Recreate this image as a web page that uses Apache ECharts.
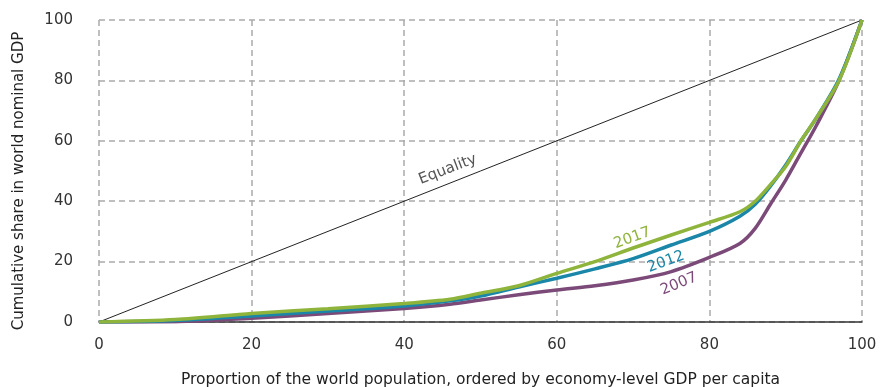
<!DOCTYPE html>
<html>
<head>
<meta charset="utf-8">
<script src="https://cdn.jsdelivr.net/npm/echarts@6/dist/echarts.min.js"></script>
<style>
  html, body { margin: 0; padding: 0; background: #fff; }
  #chart { width: 881px; height: 387px; }
</style>
</head>
<body>
<div id="chart"></div>
<script>
// proportion of world population (x) and cumulative GDP share (y)
var popShare = [0, 10, 20, 30, 40, 46, 50, 55, 60, 65, 70, 75, 80, 84, 86, 88, 90, 92, 94, 97, 100];
var gdp2017 = [0, 0.8, 2.8, 4.4, 6.1, 7.5, 9.5, 12, 16.1, 20, 24.5, 28.8, 33, 36.5, 40, 45.5, 51.5, 60, 67.5, 80, 100];
var gdp2012 = [0, 0.5, 2.0, 3.6, 5.3, 7, 8.6, 11.6, 14.5, 17.6, 21, 25.5, 30, 35, 39, 45, 52, 60, 67.5, 80.5, 100];
var gdp2007 = [0, 0.1, 1.2, 2.8, 4.5, 5.9, 7.3, 9, 10.6, 12, 13.9, 16.7, 21.4, 26, 31, 39, 47, 56, 65, 80, 100];
var equality = [[0, 0], [100, 100]];

var font = 'DejaVu Sans, sans-serif';

function pairs(ys) {
    return popShare.map(function (x, i) { return [x, ys[i]]; });
}

// text tag placed in data space
function tag(text, x, y, rot, color) {
    return {
        symbol: 'circle', symbolSize: 0,
        silent: true,
        data: [{ coord: [x, y] }],
        label: {
            show: true, position: 'inside', formatter: text, rotate: rot,
            color: color, fontSize: 15, fontFamily: font
        }
    };
}

var chart = echarts.init(document.getElementById('chart'));
chart.setOption({
    animation: false,
    grid: { left: 99, right: 19, top: 20, bottom: 65, outerBoundsMode: 'none' },
    xAxis: {
        type: 'value', min: 0, max: 100, interval: 20,
        name: 'Proportion of the world population, ordered by economy-level GDP per capita',
        nameLocation: 'middle', nameGap: 50,
        nameTextStyle: { fontSize: 15.5, color: '#222', fontFamily: font },
        axisLine: { show: true, lineStyle: { color: '#333', width: 1.5 } },
        axisTick: { show: false },
        axisLabel: { fontSize: 15, color: '#333', margin: 16, fontFamily: font },
        splitLine: { show: true, lineStyle: { color: '#aaa', type: [6, 4], width: 1.5 } }
    },
    yAxis: {
        type: 'value', min: 0, max: 100, interval: 20,
        name: 'Cumulative share in world nominal GDP',
        nameLocation: 'middle', nameGap: 72,
        nameTextStyle: { fontSize: 15, color: '#222', fontFamily: font, padding: [0, 20, 0, 0] },
        axisLine: { show: false },
        axisTick: { show: false },
        axisLabel: { fontSize: 15, color: '#333', margin: 26, fontFamily: font },
        splitLine: { show: true, lineStyle: { color: '#aaa', type: [6, 4], width: 1.5 } }
    },
    series: [
        {
            name: 'Equality', type: 'line', data: equality, symbol: 'none',
            lineStyle: { color: '#222', width: 1 },
            markPoint: tag('Equality', 45.7, 50.5, 21, '#555')
        },
        {
            name: '2007', type: 'line', data: pairs(gdp2007), symbol: 'none',
            smooth: 0.3,
            lineStyle: { color: '#7b4a78', width: 3.5 },
            markPoint: tag('2007', 76, 12.6, 22, '#7b4a78')
        },
        {
            name: '2012', type: 'line', data: pairs(gdp2012), symbol: 'none',
            smooth: 0.3,
            lineStyle: { color: '#1a86a8', width: 3.5 },
            markPoint: tag('2012', 74.3, 19.9, 20, '#1a86a8')
        },
        {
            name: '2017', type: 'line', data: pairs(gdp2017), symbol: 'none',
            smooth: 0.3,
            lineStyle: { color: '#8fb43c', width: 3.5 },
            markPoint: tag('2017', 69.9, 27.8, 20, '#8fb43c')
        }
    ]
});
</script>
</body>
</html>
